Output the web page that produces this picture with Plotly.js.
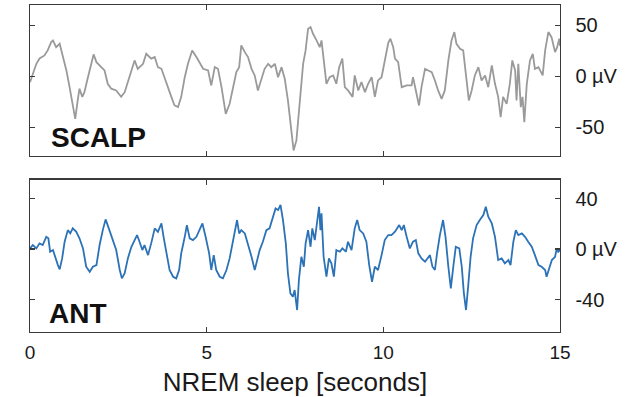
<!DOCTYPE html>
<html>
<head>
<meta charset="utf-8">
<script src="https://cdn.plot.ly/plotly-3.0.1.min.js"></script>
<style>
  html, body { margin: 0; padding: 0; background: #fff; }
  #chart { width: 636px; height: 397px; }
</style>
</head>
<body>
<div id="chart"></div>
<script>
// Scalp EEG trace (seconds, microvolts)
const scalpTime = [0.00,0.18,0.27,0.41,0.50,0.60,0.65,0.74,0.84,0.93,1.03,1.12,1.21,1.28,1.35,1.40,1.48,1.54,1.64,1.73,1.80,1.88,1.97,2.11,2.20,2.30,2.44,2.58,2.68,2.82,2.96,3.05,3.20,3.29,3.43,3.53,3.62,3.72,3.86,4.00,4.09,4.19,4.28,4.38,4.47,4.59,4.71,4.85,4.90,5.04,5.13,5.23,5.32,5.42,5.54,5.65,5.75,5.84,5.92,5.98,6.08,6.17,6.27,6.36,6.45,6.55,6.64,6.74,6.83,6.93,7.02,7.12,7.21,7.30,7.40,7.46,7.54,7.63,7.73,7.80,7.87,7.94,8.01,8.11,8.20,8.25,8.31,8.39,8.48,8.58,8.67,8.75,8.84,8.91,9.00,9.13,9.19,9.29,9.38,9.48,9.57,9.67,9.76,9.85,9.95,10.07,10.14,10.20,10.28,10.33,10.42,10.52,10.66,10.80,10.84,10.92,11.01,11.08,11.18,11.27,11.37,11.46,11.55,11.65,11.74,11.84,11.93,12.01,12.07,12.17,12.26,12.34,12.42,12.50,12.59,12.69,12.78,12.88,12.97,13.07,13.16,13.25,13.32,13.39,13.49,13.58,13.65,13.73,13.77,13.82,13.89,13.94,13.99,14.06,14.15,14.23,14.29,14.39,14.51,14.58,14.67,14.76,14.86,14.92,14.98,15.00];
const scalpUv = [-5.6,12.4,17.6,20.6,25.5,33.7,35.3,28.7,32,19,5.9,-10.5,-30,-41.5,-23.5,-12,-20,-15.4,-0.7,12.4,21.6,14,10.8,5.9,-7.2,-12,-13.7,-20,-15.4,-0.7,15.7,7.5,12.4,22.2,17.4,19,9.1,7.5,-7.2,-20,-28.4,-30,-20,-0.7,12.4,25.5,19,10.8,7.5,5.9,-8.8,9.1,7.5,-10.5,-36.6,-26.8,-10.5,4.2,9.1,30.4,23.8,19,7.5,1,-13.7,-2.3,7.5,12.4,9.1,12.4,-0.7,9.1,-2.3,-23.5,-56,-72.5,-62.7,-23.5,12.4,25.5,46.8,48.4,41.8,35.3,28.7,35.3,17.4,-7.2,-0.7,1,-7.2,9.1,17.4,-10.5,-13.7,-20,1,-13.7,-5.6,-15.4,-7.2,-0.7,-20,-3.9,-0.7,22.2,33,37,28.7,17.4,14,-10.5,-8.8,-8.8,-0.7,-13.7,-28.4,-10.5,7.5,5.9,4.2,-3.9,-13.7,-21.9,-13.7,15.7,35.3,43.5,32,27.1,25.5,1,-23.5,-13.7,1,9.1,-3.9,1,-10.5,10.8,-7.2,-20,-39.9,-20,-26.8,-7.2,15.7,5.9,-23.5,12.4,-30,-20,-44.8,-7.2,15.7,22.2,7.5,9.1,1,25.5,43.5,38.5,23.8,28.7,37,30];

// Anterior thalamic (ANT) trace (seconds, microvolts)
const antTime = [0.00,0.08,0.18,0.27,0.36,0.46,0.52,0.57,0.65,0.72,0.79,0.84,0.91,0.98,1.07,1.14,1.21,1.31,1.40,1.50,1.59,1.69,1.78,1.88,1.97,2.06,2.14,2.23,2.33,2.44,2.54,2.60,2.68,2.77,2.87,2.96,3.03,3.10,3.18,3.24,3.34,3.43,3.53,3.62,3.72,3.78,3.86,3.95,4.05,4.14,4.22,4.28,4.38,4.44,4.52,4.61,4.71,4.80,4.88,4.97,5.07,5.13,5.20,5.27,5.37,5.46,5.56,5.65,5.75,5.86,5.92,5.98,6.08,6.17,6.27,6.36,6.41,6.50,6.59,6.69,6.78,6.88,6.95,7.02,7.09,7.16,7.24,7.30,7.37,7.44,7.49,7.56,7.61,7.68,7.75,7.80,7.87,7.94,7.99,8.06,8.12,8.18,8.22,8.25,8.31,8.39,8.46,8.53,8.60,8.67,8.77,8.84,8.94,9.00,9.10,9.19,9.26,9.33,9.43,9.52,9.60,9.68,9.76,9.85,9.95,10.04,10.14,10.23,10.33,10.45,10.52,10.58,10.66,10.75,10.84,10.92,10.99,11.08,11.18,11.24,11.32,11.39,11.46,11.52,11.60,11.69,11.76,11.84,11.91,11.98,12.05,12.15,12.22,12.28,12.34,12.40,12.47,12.54,12.64,12.73,12.83,12.90,12.97,13.07,13.16,13.25,13.35,13.44,13.54,13.60,13.68,13.75,13.82,13.92,14.01,14.10,14.20,14.29,14.39,14.48,14.58,14.62,14.70,14.77,14.86,14.91,14.95,15.00];
const antUv = [0.5,3.2,0.5,4.5,3.2,9.7,8.5,-2.1,-0.8,-7.4,-12.7,-16.1,-7.4,5.8,15,12.4,16.4,13.7,8.5,0.5,-14,-18,-14,-12.7,3.2,15,23.5,16.4,8.5,-0.8,-16.6,-23.2,-19.2,-7.4,1.8,7.1,11.1,5.8,-0.8,3.2,-4.8,4.5,16.4,13.7,20.3,9.7,-3.4,-16.6,-21.9,-23.2,-16.6,-3.4,9.7,19,8.5,7.1,9.7,15,20.3,9.7,-3.4,-16.6,-4.8,-16.6,-21.9,-23.2,-16.6,-7.4,5.8,23,12.4,15,12.4,4.5,-6.1,-16.6,-11.3,-0.8,5.8,15,16.4,25.6,32.2,30.9,34.9,23,4.5,-19.2,-35.1,-37.8,-32.5,-48.3,-24.6,-6.1,-14,4.5,15,1.8,16.4,7.1,20.3,33.5,15,28.3,-6.1,-21.9,-7.4,-11.3,-21.9,-0.8,-2.1,0.5,-2.1,5.8,-0.8,16.4,23,15,12.4,5.8,-12.7,-25.9,-14,-16.6,-4.8,7.1,11.1,11.1,13.7,19,15,19,9.7,0.5,5.8,7.1,-3.4,-7.4,-10,-7.4,-4.8,-14,-16.6,-3.4,11.1,23,9.7,-14,-31.2,-14,1.8,0.5,-14,-35.1,-48.3,-29.8,-6.1,8.5,19,23,26.9,33.5,25.6,20.3,9.7,-8.7,-7.4,-11.3,-8.7,-12.7,5.8,15,11.1,12.4,9.7,5.8,1.8,-4.8,-12.7,-14,-16.6,-21.9,-14,-8.7,-6.1,0.5,-2.1,-1];

// Axis ticks
const timeTicks = [0, 5, 10, 15];
const timeTickText = ['0', '5', '10', '15'];
const scalpTicks = [-50, 0, 50];
const scalpTickText = ['-50', '0 µV', '50'];
const antTicks = [-40, 0, 40];
const antTickText = ['-40', '0 µV', '40'];

const axisColor = '#3a3a3a';
const textColor = '#1a1a1a';
const fontFamily = 'Liberation Sans, Arial, sans-serif';

const traces = [
  {
    x: scalpTime, y: scalpUv, type: 'scatter', mode: 'lines',
    line: { color: '#9a9a9a', width: 1.8 },
    xaxis: 'x', yaxis: 'y', hoverinfo: 'skip'
  },
  {
    x: antTime, y: antUv, type: 'scatter', mode: 'lines',
    line: { color: '#2b72b6', width: 1.8 },
    xaxis: 'x2', yaxis: 'y2', hoverinfo: 'skip'
  }
];

const xCommon = {
  range: [0, 15],
  tickvals: timeTicks,
  ticktext: timeTickText,
  ticks: 'inside',
  ticklen: 5,
  tickwidth: 1.2,
  tickcolor: axisColor,
  showline: true,
  linecolor: axisColor,
  linewidth: 1.4,
  mirror: 'ticks',
  showgrid: false,
  zeroline: false,
  tickfont: { family: fontFamily, size: 19, color: textColor }
};

const yCommon = {
  side: 'right',
  ticks: 'inside',
  ticklen: 5,
  tickwidth: 1.2,
  tickcolor: axisColor,
  showline: true,
  linecolor: axisColor,
  linewidth: 1.4,
  mirror: 'ticks',
  showgrid: false,
  zeroline: false,
  ticklabelstandoff: 10,
  tickfont: { family: fontFamily, size: 20, color: textColor }
};

const layout = {
  width: 636,
  height: 397,
  margin: { l: 30, r: 76, t: 5, b: 65 },
  paper_bgcolor: '#ffffff',
  plot_bgcolor: '#ffffff',
  showlegend: false,
  xaxis: Object.assign({}, xCommon, { domain: [0, 1], anchor: 'y', showticklabels: false }),
  yaxis: Object.assign({}, yCommon, {
    domain: [0.538, 1], anchor: 'x', range: [-78, 70],
    tickvals: scalpTicks, ticktext: scalpTickText
  }),
  xaxis2: Object.assign({}, xCommon, {
    domain: [0, 1], anchor: 'y2', ticklabelstandoff: 3,
    title: {
      text: 'NREM sleep [seconds]',
      standoff: 10,
      font: { family: fontFamily, size: 26, color: textColor }
    }
  }),
  yaxis2: Object.assign({}, yCommon, {
    domain: [0, 0.466], anchor: 'x2', range: [-65.7, 55],
    tickvals: antTicks, ticktext: antTickText
  }),
  annotations: [
    {
      text: '<b>SCALP</b>', xref: 'x domain', yref: 'y domain',
      x: 0.035, y: 0.126, xanchor: 'left', yanchor: 'middle', showarrow: false,
      font: { family: fontFamily, size: 28, color: '#111111' }
    },
    {
      text: '<b>ANT</b>', xref: 'x2 domain', yref: 'y2 domain',
      x: 0.032, y: 0.122, xanchor: 'left', yanchor: 'middle', showarrow: false,
      font: { family: fontFamily, size: 28, color: '#111111' }
    }
  ]
};

Plotly.newPlot('chart', traces, layout, { displayModeBar: false, staticPlot: true });
</script>
</body>
</html>
